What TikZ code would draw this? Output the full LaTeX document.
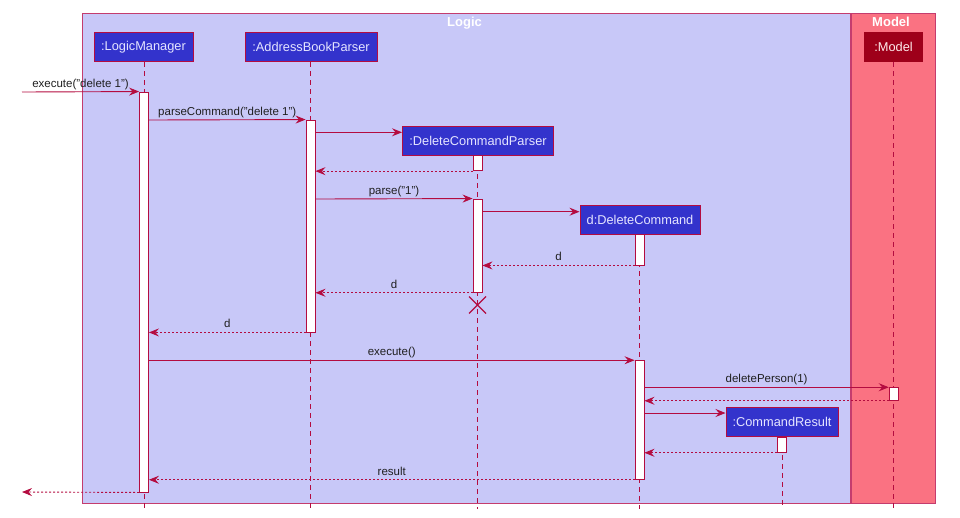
\documentclass[tikz,border=0pt]{standalone}
\usepackage{fontspec}
\setmainfont{Liberation Sans}
\usetikzlibrary{arrows.meta}
\definecolor{logicfill}{RGB}{200,200,248}
\definecolor{modelfill}{RGB}{250,114,130}
\definecolor{bord}{RGB}{196,60,110}
\definecolor{partfill}{RGB}{51,51,204}
\definecolor{modelpart}{RGB}{158,0,26}
\definecolor{arrowc}{RGB}{180,12,64}
\begin{document}
\begin{tikzpicture}[x=1pt,y=-1pt,
  group/.style={draw=bord, line width=1pt},
  gtitle/.style={text=white, font=\bfseries\fontsize{13}{15}\selectfont, inner sep=0pt, anchor=base},
  part/.style={draw=arrowc, line width=1pt, fill=partfill, text=white!90!blue, font=\fontsize{12.8}{15}\selectfont, inner sep=0pt, minimum height=29pt},
  mpart/.style={fill=modelpart, text=white!92!red, font=\fontsize{12.8}{15}\selectfont, inner sep=0pt, minimum height=30pt, minimum width=59pt},
  lifeline/.style={draw=arrowc, line width=0.8pt, dash pattern=on 5pt off 4pt},
  actbar/.style={draw=arrowc, fill=white, line width=0.9pt, minimum width=9pt, inner sep=0pt},
  msg/.style={draw=arrowc, line width=0.9pt, -{Stealth[length=10pt,width=8pt,inset=3.5pt]}},
  ret/.style={msg, dash pattern=on 2pt off 2pt},
  lbl/.style={anchor=base, yshift=4.5pt, inner sep=0pt, text=black!88, font=\fontsize{11.5}{13}\selectfont}
]
\useasboundingbox (0,0) rectangle (960,517);
\fill[white] (0,0) rectangle (960,517);
% groups
\node[group, fill=logicfill, minimum width=768pt, minimum height=490pt, anchor=north west, inner sep=0pt] (logicbox) at (82,13) {};
\node[group, fill=modelfill, minimum width=84pt, minimum height=490pt, anchor=north west, inner sep=0pt] (modelbox) at (851,13) {};
\node[gtitle] (logictitle) at (464.5,26.5) {Logic};
\node[gtitle] (modeltitle) at (891,26.5) {Model};
% participants
\node[part, minimum width=99pt] (lm) at (143.5,47) {:LogicManager};
\node[part, minimum width=132pt] (abp) at (311,47) {:AddressBookParser};
\node[part, minimum width=151pt] (dcp) at (478,141.2) {:DeleteCommandParser};
\node[part, minimum width=120pt] (dc) at (640,220.4) {d:DeleteCommand};
\node[part, minimum width=112pt] (cr) at (782,422.2) {:CommandResult};
\node[mpart] (model) at (893.5,47) {:Model};
% lifeline ends
\coordinate (lmend) at (144,509);
\coordinate (abpend) at (310.5,509);
\coordinate (dcpend) at (477.5,509);
\coordinate (dcend) at (639.5,509);
\coordinate (crend) at (782,509);
\coordinate (modelend) at (893.5,509);
\draw[lifeline] (lm.south -| lmend) -- (lmend);
\draw[lifeline] (abp.south -| abpend) -- (abpend);
\draw[lifeline] (dcp.south -| dcpend) -- (dcpend);
\draw[lifeline] (dc.south -| dcend) -- (dcend);
\draw[lifeline] (cr.south -| crend) -- (crend);
\draw[lifeline] (model.south -| modelend) -- (modelend);
% activation bars
\node[actbar, minimum height=400pt] (lmbar) at (144,292) {};
\node[actbar, minimum height=212pt] (abpbar) at (310.5,226) {};
\node[actbar, minimum height=15pt] (dcpbar1) at (477.5,163.2) {};
\node[actbar, minimum height=93.3pt] (dcpbar2) at (477.5,245.65) {};
\node[actbar, minimum height=30.3pt] (dcbar1) at (639.5,249.85) {};
\node[actbar, minimum height=118.6pt] (dcbar2) at (639.5,420) {};
\node[actbar, minimum height=12.6pt] (modelbar) at (893.7,394) {};
\node[actbar, minimum height=15.3pt] (crbar) at (782,444.65) {};
% destroy cross
\coordinate (xc) at (477.5,305);
\draw[arrowc, line width=1.3pt] ([shift={(-8.5,-8.5)}]xc) -- ([shift={(8.5,8.5)}]xc)
  ([shift={(-8.5,8.5)}]xc) -- ([shift={(8.5,-8.5)}]xc);
% messages
\coordinate (start) at (22,92);
\coordinate (finish) at (22,492);
\draw[msg] (start) -- node[lbl]{execute("delete 1")} (lmbar.north west);
\draw[msg] (lmbar.east |- 0,120) -- node[lbl]{parseCommand("delete 1")} (abpbar.north west);
\draw[msg] (abpbar.east |- 0,132.3) -- (dcp.west |- 0,132.3);
\draw[ret] (dcpbar1.south west) -- (abpbar.east |- dcpbar1.south);
\draw[msg] (abpbar.east |- 0,199) -- node[lbl]{parse("1")} (dcpbar2.north west);
\draw[msg] (dcpbar2.east |- 0,211.7) -- (dc.west |- 0,211.7);
\draw[ret] (dcbar1.south west) -- node[lbl]{d} (dcpbar2.east |- dcbar1.south);
\draw[ret] (dcpbar2.south west) -- node[lbl]{d} (abpbar.east |- dcpbar2.south);
\draw[ret] (abpbar.south west) -- node[lbl]{d} (lmbar.east |- abpbar.south);
\draw[msg] (lmbar.east |- dcbar2.north) -- node[lbl]{execute()} (dcbar2.north west);
\draw[msg] (dcbar2.east |- modelbar.north) -- node[lbl]{deletePerson(1)} (modelbar.north west);
\draw[ret] (modelbar.south west) -- (dcbar2.east |- modelbar.south);
\draw[msg] (dcbar2.east |- 0,413) -- (cr.west |- 0,413);
\draw[ret] (crbar.south west) -- (dcbar2.east |- crbar.south);
\draw[ret] (dcbar2.south west) -- node[lbl]{result} (lmbar.east |- dcbar2.south);
\draw[ret] (lmbar.south west) -- (finish);
\end{tikzpicture}
\end{document}
